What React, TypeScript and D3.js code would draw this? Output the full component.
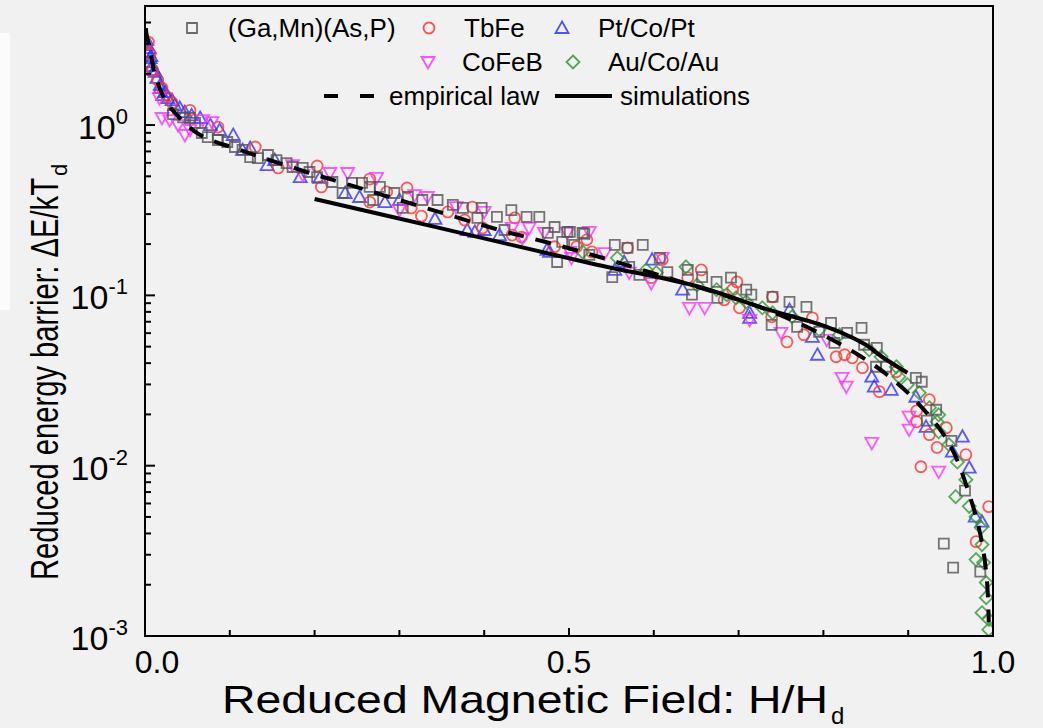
import React from 'react';
import * as d3 from 'd3';

const W = 1043;
const H = 728;

// ---------- data ----------
const gaMnAsP: [number, number][] = [
  [0.033, 1.16], [0.045, 1.11], [0.053, 1.10], [0.059, 1.03], [0.067, 0.898], [0.074, 0.850],
  [0.086, 0.817], [0.097, 0.795], [0.106, 0.743], [0.115, 0.714], [0.124, 0.649], [0.133, 0.640],
  [0.145, 0.667], [0.155, 0.623], [0.167, 0.598], [0.174, 0.567], [0.186, 0.560], [0.194, 0.530],
  [0.203, 0.495], [0.221, 0.463], [0.233, 0.399], [0.244, 0.457], [0.256, 0.457], [0.265, 0.433],
  [0.277, 0.433], [0.269, 0.363], [0.294, 0.399], [0.304, 0.326], [0.310, 0.378], [0.327, 0.363],
  [0.345, 0.363], [0.363, 0.340], [0.375, 0.326], [0.397, 0.326], [0.392, 0.285], [0.415, 0.289],
  [0.424, 0.242], [0.432, 0.317], [0.450, 0.289], [0.465, 0.289], [0.475, 0.233], [0.483, 0.252],
  [0.492, 0.206], [0.498, 0.236], [0.516, 0.233], [0.524, 0.173], [0.486, 0.157], [0.501, 0.236],
  [0.518, 0.230], [0.506, 0.198], [0.554, 0.198], [0.569, 0.190], [0.587, 0.198], [0.551, 0.128],
  [0.571, 0.147], [0.583, 0.132], [0.607, 0.166], [0.616, 0.137], [0.640, 0.141], [0.645, 0.101],
  [0.657, 0.128], [0.674, 0.120], [0.691, 0.127], [0.675, 0.0967], [0.709, 0.108], [0.715, 0.101],
  [0.740, 0.0980], [0.760, 0.0916], [0.780, 0.0857], [0.739, 0.0671], [0.769, 0.0653], [0.809, 0.0690],
  [0.795, 0.0611], [0.813, 0.0526], [0.828, 0.0603], [0.845, 0.0645], [0.848, 0.0513], [0.863, 0.0492],
  [0.862, 0.0381], [0.874, 0.0381], [0.909, 0.0328], [0.916, 0.0311], [0.933, 0.0213], [0.922, 0.0184],
  [0.951, 0.0140], [0.967, 0.00713], [0.942, 0.00349], [0.953, 0.00252], [0.985, 0.00239],
];

const tbFe: [number, number][] = [
  [0.004, 3.07], [0.006, 2.61], [0.009, 2.10], [0.015, 1.84], [0.020, 1.65], [0.026, 1.46],
  [0.032, 1.35], [0.053, 1.22], [0.086, 0.973], [0.130, 0.743], [0.157, 0.560], [0.203, 0.575],
  [0.208, 0.433], [0.265, 0.482], [0.265, 0.353], [0.285, 0.405], [0.309, 0.427], [0.314, 0.326],
  [0.326, 0.292], [0.357, 0.309], [0.377, 0.277], [0.386, 0.330], [0.398, 0.249], [0.436, 0.285],
  [0.433, 0.226], [0.444, 0.220], [0.483, 0.193], [0.509, 0.193], [0.521, 0.212], [0.527, 0.180],
  [0.569, 0.190], [0.610, 0.162], [0.597, 0.127], [0.656, 0.141], [0.640, 0.127], [0.698, 0.120],
  [0.693, 0.108], [0.683, 0.0941], [0.701, 0.0845], [0.740, 0.0980], [0.739, 0.0748], [0.757, 0.0533],
  [0.777, 0.0587], [0.787, 0.0738], [0.815, 0.0436], [0.825, 0.0448], [0.834, 0.0430], [0.846, 0.0376],
  [0.886, 0.0356], [0.866, 0.0272], [0.925, 0.0244], [0.910, 0.0210], [0.910, 0.0181], [0.925, 0.0152],
  [0.934, 0.0128], [0.945, 0.0167], [0.968, 0.0116], [0.915, 0.00986], [0.995, 0.00575], [0.980, 0.00358],
];

const ptCoPt: [number, number][] = [
  [0.002, 3.15], [0.002, 2.95], [0.004, 2.68], [0.005, 2.83], [0.006, 2.47], [0.007, 2.54],
  [0.006, 2.34], [0.008, 2.22], [0.011, 2.10], [0.012, 2.05], [0.014, 1.89], [0.018, 1.72],
  [0.018, 1.65], [0.021, 1.50], [0.024, 1.56], [0.027, 1.44], [0.032, 1.40], [0.035, 1.31],
  [0.041, 1.26], [0.047, 1.19], [0.055, 1.14], [0.065, 1.10], [0.077, 1.00], [0.088, 0.935],
  [0.104, 0.874], [0.115, 0.714], [0.124, 0.733], [0.144, 0.582], [0.153, 0.623], [0.183, 0.495],
  [0.206, 0.489], [0.236, 0.399], [0.253, 0.378], [0.283, 0.353], [0.300, 0.363], [0.342, 0.281],
  [0.380, 0.242], [0.389, 0.236], [0.400, 0.242], [0.418, 0.226], [0.474, 0.185], [0.477, 0.180],
  [0.554, 0.141], [0.565, 0.157], [0.598, 0.162], [0.634, 0.108], [0.713, 0.0789], [0.713, 0.0738],
  [0.760, 0.0822], [0.787, 0.0571], [0.793, 0.0448], [0.857, 0.0333], [0.860, 0.0291], [0.880, 0.0279],
  [0.909, 0.0254], [0.921, 0.0169], [0.964, 0.0148], [0.952, 0.0121], [0.972, 0.00973], [0.979, 0.00502],
  [0.987, 0.00469],
];

const coFeB: [number, number][] = [
  [0.017, 1.44], [0.020, 1.10], [0.029, 1.07], [0.039, 1.00], [0.047, 0.874], [0.053, 0.935],
  [0.068, 1.07], [0.079, 1.04], [0.174, 0.582], [0.186, 0.509], [0.218, 0.523], [0.239, 0.523],
  [0.273, 0.489], [0.300, 0.317], [0.318, 0.388], [0.333, 0.378], [0.367, 0.330], [0.400, 0.309],
  [0.433, 0.249], [0.445, 0.217], [0.453, 0.249], [0.471, 0.233], [0.498, 0.233], [0.503, 0.166],
  [0.524, 0.236], [0.501, 0.180], [0.542, 0.177], [0.571, 0.136], [0.597, 0.118], [0.610, 0.166],
  [0.642, 0.0845], [0.660, 0.0845], [0.713, 0.0718], [0.750, 0.0603], [0.804, 0.0548], [0.822, 0.0328],
  [0.827, 0.0291], [0.857, 0.0136], [0.901, 0.0194], [0.901, 0.0163], [0.936, 0.00923],
];

const auCoAu: [number, number][] = [
  [0.516, 0.180], [0.557, 0.166], [0.591, 0.141], [0.603, 0.136], [0.638, 0.147], [0.651, 0.115],
  [0.674, 0.108], [0.686, 0.101], [0.697, 0.0967], [0.709, 0.0916], [0.728, 0.0845], [0.740, 0.0789],
  [0.763, 0.0748], [0.795, 0.0628], [0.819, 0.0587], [0.854, 0.0479], [0.868, 0.0436], [0.886, 0.0381],
  [0.889, 0.0333], [0.899, 0.0299], [0.913, 0.0268], [0.925, 0.0219], [0.936, 0.0199], [0.934, 0.0181],
  [0.936, 0.0158], [0.948, 0.0133], [0.958, 0.0105], [0.968, 0.00828], [0.956, 0.00658], [0.972, 0.00577],
  [0.980, 0.00502], [0.986, 0.00433], [0.987, 0.00344], [0.980, 0.00281], [0.989, 0.00270], [0.992, 0.00206],
  [0.992, 0.00168], [0.987, 0.00137], [0.995, 0.00125], [0.995, 0.00109],
];

const empiricalLaw: [number, number][] = [
  [0.001, 3.71], [0.002, 3.37], [0.006, 2.75], [0.012, 1.96], [0.024, 1.40], [0.041, 1.10],
  [0.065, 0.874], [0.112, 0.714], [0.183, 0.545], [0.241, 0.445], [0.300, 0.363], [0.359, 0.296],
  [0.418, 0.242], [0.477, 0.203], [0.536, 0.168], [0.595, 0.137], [0.654, 0.111], [0.721, 0.0868],
  [0.762, 0.0718], [0.802, 0.0578], [0.841, 0.0448], [0.875, 0.0342], [0.910, 0.0237], [0.948, 0.0136],
  [0.974, 0.00632], [0.987, 0.00353], [0.993, 0.00206], [0.995, 0.00120],
];

const simulations: [number, number][] = [
  [0.200, 0.368], [0.347, 0.249], [0.524, 0.155], [0.654, 0.112], [0.728, 0.0845],
  [0.807, 0.0645], [0.850, 0.0513], [0.869, 0.0436], [0.899, 0.0351],
];

const xMajorTicks = [0, 0.5, 1.0];
const xTickLabels = ['0.0', '0.5', '1.0'];
const xMinorTicks = [0.1, 0.2, 0.3, 0.4, 0.6, 0.7, 0.8, 0.9];
const yDecades = [1e-3, 1e-2, 1e-1, 1];
const yDecadeExps = ['-3', '-2', '-1', '0'];
const yMinorMultipliers = [2, 3, 4, 5, 6, 7, 8, 9];

const seriesNames = ['(Ga,Mn)(As,P)', 'TbFe', 'Pt/Co/Pt', 'CoFeB', 'Au/Co/Au'];
const lineNames = ['empirical law', 'simulations'];

// ---------- layout ----------
const PL = 145, PR = 993, PT = 6, PB = 636;
const FONT = 'Liberation Sans, Arial, Helvetica, sans-serif';

const COLORS = {
  gray: '#555555',
  red: '#ff3333',
  blue: '#3333ff',
  magenta: '#ff33ff',
  green: '#339933',
};

type Shape = 'square' | 'circle' | 'up' | 'down' | 'diamond';

function markerPath(shape: Shape, cx: number, cy: number): string {
  switch (shape) {
    case 'square': {
      const h = 5;
      return `M${cx - h},${cy - h}H${cx + h}V${cy + h}H${cx - h}Z`;
    }
    case 'circle': {
      const r = 5.5;
      return `M${cx - r},${cy}a${r},${r} 0 1,0 ${2 * r},0a${r},${r} 0 1,0 ${-2 * r},0Z`;
    }
    case 'up':
      return `M${cx},${cy - 6.5}L${cx + 6.5},${cy + 5}L${cx - 6.5},${cy + 5}Z`;
    case 'down':
      return `M${cx},${cy + 6.5}L${cx + 6.5},${cy - 5}L${cx - 6.5},${cy - 5}Z`;
    case 'diamond':
      return `M${cx},${cy - 6.5}L${cx + 6.5},${cy}L${cx},${cy + 6.5}L${cx - 6.5},${cy}Z`;
  }
}

export default function App() {
  const x = d3.scaleLinear().domain([0, 1]).range([PL, PR]);
  const y = d3.scaleLog().domain([1e-3, 5]).range([PB, PT]);

  const line = d3
    .line<[number, number]>()
    .x((d) => x(d[0]))
    .y((d) => y(d[1]))
    .curve(d3.curveCatmullRom.alpha(0.5));

  const series: { data: [number, number][]; shape: Shape; color: string }[] = [
    { data: ptCoPt, shape: 'up', color: COLORS.blue },
    { data: tbFe, shape: 'circle', color: COLORS.red },
    { data: coFeB, shape: 'down', color: COLORS.magenta },
    { data: auCoAu, shape: 'diamond', color: COLORS.green },
    { data: gaMnAsP, shape: 'square', color: COLORS.gray },
  ];

  const yMinor: number[] = [];
  yDecades.forEach((d) => {
    yMinorMultipliers.forEach((m) => {
      const v = d * m;
      if (v < 5) yMinor.push(v);
    });
  });

  const legendItems: { shape: Shape; color: string; name: string; mx: number; my: number; tx: number }[] = [
    { shape: 'square', color: COLORS.gray, name: seriesNames[0], mx: 192, my: 28, tx: 228 },
    { shape: 'circle', color: COLORS.red, name: seriesNames[1], mx: 429, my: 28, tx: 464 },
    { shape: 'up', color: COLORS.blue, name: seriesNames[2], mx: 562, my: 28, tx: 598 },
    { shape: 'down', color: COLORS.magenta, name: seriesNames[3], mx: 428, my: 62, tx: 462 },
    { shape: 'diamond', color: COLORS.green, name: seriesNames[4], mx: 573, my: 62, tx: 608 },
  ];

  const xLabelPos = [x(0) + 12, x(0.5), x(1)];

  return (
    <svg
      width={W}
      height={H}
      style={{ position: 'absolute', left: 0, top: 0, display: 'block' }}
      fontFamily={FONT}
    >
      <defs>
        <clipPath id="plotClip">
          <rect x={PL} y={PT} width={PR - PL} height={PB - PT} />
        </clipPath>
      </defs>
      <rect x={0} y={0} width={W} height={H} fill="#f1f1f1" />
      <rect x={0} y={33} width={10} height={277} fill="#fbfbfb" />

      {/* data markers */}
      <g clipPath="url(#plotClip)">
        {series.map((s, si) => (
          <g key={si} stroke={s.color} strokeWidth={1.8} fill="none" strokeOpacity={0.8}>
            {s.data.map((d, i) => (
              <path key={i} d={markerPath(s.shape, x(d[0]), y(d[1]))} />
            ))}
          </g>
        ))}
        <path d={line(empiricalLaw) || ''} fill="none" stroke="#000" strokeWidth={4} strokeDasharray="16,12" />
        <path d={line(simulations) || ''} fill="none" stroke="#000" strokeWidth={4} />
      </g>

      {/* frame */}
      <rect x={PL} y={PT} width={PR - PL} height={PB - PT} fill="none" stroke="#000" strokeWidth={2} />

      {/* y ticks */}
      {yDecades.map((d, i) => (
        <g key={'yd' + i}>
          <line x1={PL} x2={PL + 10} y1={y(d)} y2={y(d)} stroke="#000" strokeWidth={2} />
          <text x={128} y={y(d) + 14} textAnchor="end" fontSize={34} fill="#000">
            <tspan>10</tspan>
            <tspan dy={-15} fontSize={22}>{yDecadeExps[i]}</tspan>
          </text>
        </g>
      ))}
      {yMinor.map((v, i) => (
        <line key={'ym' + i} x1={PL} x2={PL + 6} y1={y(v)} y2={y(v)} stroke="#000" strokeWidth={2} />
      ))}

      {/* x ticks */}
      {xMinorTicks.map((v, i) => (
        <line key={'xm' + i} x1={x(v)} x2={x(v)} y1={PB} y2={PB - 6} stroke="#000" strokeWidth={2} />
      ))}
      {xMajorTicks.map((v, i) => (
        <g key={'xM' + i}>
          <line x1={x(v)} x2={x(v)} y1={PB} y2={PB - 8} stroke="#000" strokeWidth={2} />
          <text x={xLabelPos[i]} y={673} textAnchor="middle" fontSize={32} fill="#000">
            {xTickLabels[i]}
          </text>
        </g>
      ))}

      {/* axis titles */}
      <text x={222} y={713} fontSize={39} fill="#000" textLength={606} lengthAdjust="spacingAndGlyphs">
        Reduced Magnetic Field: H/H
      </text>
      <text x={831} y={724} fontSize={24} fill="#000">d</text>

      <g transform="translate(58,580) rotate(-90)">
        <text x={0} y={0} fontSize={38} fill="#000" textLength={402} lengthAdjust="spacingAndGlyphs">
          Reduced energy barrier: ΔE/kT
        </text>
        <text x={404} y={9} fontSize={22} fill="#000">d</text>
      </g>

      {/* legend */}
      {legendItems.map((it, i) => (
        <g key={'lg' + i}>
          <path
            d={markerPath(it.shape, it.mx, it.my)}
            fill="none"
            stroke={it.color}
            strokeWidth={1.8}
            strokeOpacity={0.85}
          />
          <text x={it.tx} y={it.my + 9} fontSize={26} fill="#000">
            {it.name}
          </text>
        </g>
      ))}
      <line x1={324} x2={377} y1={96} y2={96} stroke="#000" strokeWidth={4} strokeDasharray="14,22" />
      <text x={389} y={105} fontSize={26} fill="#000">{lineNames[0]}</text>
      <line x1={555} x2={612} y1={96} y2={96} stroke="#000" strokeWidth={4} />
      <text x={620} y={105} fontSize={26} fill="#000">{lineNames[1]}</text>
    </svg>
  );
}
